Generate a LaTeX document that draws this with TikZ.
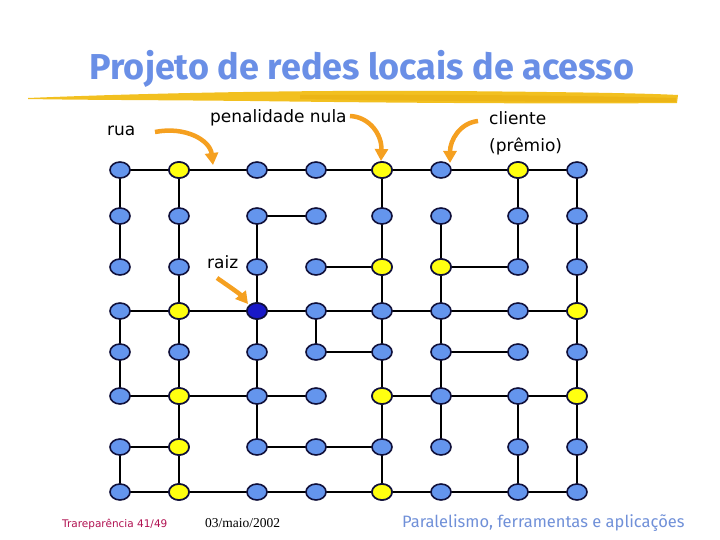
\documentclass[tikz,border=0pt]{standalone}
\usepackage{fontspec}
\setmainfont{DejaVu Sans}
\newfontfamily\titlefont{Fira Sans}
\newfontfamily\serfont{Liberation Serif}
\usetikzlibrary{shapes.geometric,arrows.meta}
\definecolor{nodeblue}{HTML}{6495ED}
\definecolor{nodeedge}{HTML}{10103A}
\definecolor{nodeyellow}{HTML}{FFFF10}
\definecolor{rootblue}{HTML}{1818C8}
\definecolor{titleblue}{HTML}{6A8FE6}
\definecolor{brush}{HTML}{F2C020}
\definecolor{brushdark}{HTML}{E8AE10}
\definecolor{arroworange}{HTML}{F5A020}
\definecolor{footred}{HTML}{B01050}
\definecolor{footblue}{HTML}{7090D8}
\tikzset{
  vtx/.style={ellipse,draw=nodeedge,line width=1.6pt,fill=nodeblue,minimum width=20pt,minimum height=16pt,inner sep=0pt},
  yel/.style={fill=nodeyellow},
  rootv/.style={fill=rootblue},
  edge/.style={draw=black,line width=1.8pt},
  orarrow/.style={draw=arroworange,line width=4.5pt,-{Triangle[length=12pt,width=13pt]}},
  lbl/.style={font=\fontsize{17}{20}\selectfont,inner sep=0pt,anchor=base west}
}
\begin{document}
\begin{tikzpicture}[x=1pt,y=-1pt]
\useasboundingbox (0,0) rectangle (720,540);
% brush stroke
\fill[brush] (28,98) .. controls (150,93) and (300,90) .. (450,91) .. controls (560,92) and (640,93) .. (678,95)
  -- (677,103) .. controls (560,104) and (400,103) .. (250,101) .. controls (150,100) and (80,100) .. (28,99) -- cycle;
\fill[brushdark,opacity=0.6] (300,95) .. controls (450,94) and (600,96) .. (676,98) -- (676,102) .. controls (560,102) and (420,101) .. (300,99) -- cycle;
% title
\node[font=\titlefont\bfseries\fontsize{36}{40}\selectfont,text=titleblue,anchor=base,inner sep=0pt] (title) at (362,80) {Projeto de redes locais de acesso};
% labels
\node[lbl] (rua) at (107,136) {rua};
\node[lbl] (pen) at (210,123) {penalidade nula};
\node[lbl] (cli) at (489,125) {cliente};
\node[lbl] (pre) at (489,152) {(prêmio)};
\node[lbl] (raiz) at (207,268) {raiz};
% grid nodes
\def\xs{{0,120,179,257,316,382,441,518,577}}
\def\ys{{0,170,216,267,311,352,396,447,492}}
\foreach \r in {1,...,8}{
  \foreach \c in {1,...,8}{
    \pgfmathsetmacro{\xx}{\xs[\c]}
    \pgfmathsetmacro{\yy}{\ys[\r]}
    \coordinate (p-\r-\c) at (\xx,\yy);
  }
}
% horizontal edges
\foreach \r/\a/\b in {1/1/2,1/2/3,1/3/4,1/4/5,1/5/6,1/6/7,1/7/8,
  2/3/4,
  3/4/5,3/6/7,
  4/1/2,4/2/3,4/3/4,4/4/5,4/5/6,4/6/7,4/7/8,
  5/4/5,5/6/7,
  6/1/2,6/2/3,6/3/4,6/5/6,6/6/7,6/7/8,
  7/1/2,7/3/4,7/4/5,
  8/1/2,8/2/3,8/3/4,8/4/5,8/5/6,8/6/7,8/7/8}{
  \draw[edge] (p-\r-\a) -- (p-\r-\b);
}
% vertical edges
\foreach \r/\s/\c in {1/2/1,1/2/2,1/2/5,1/2/7,1/2/8,
  2/3/1,2/3/2,2/3/3,2/3/5,2/3/6,2/3/7,2/3/8,
  3/4/2,3/4/3,3/4/5,3/4/6,3/4/8,
  4/5/1,4/5/2,4/5/3,4/5/4,4/5/5,4/5/6,4/5/8,
  5/6/1,5/6/2,5/6/3,5/6/5,5/6/6,5/6/8,
  6/7/2,6/7/3,6/7/5,6/7/6,6/7/7,6/7/8,
  7/8/1,7/8/2,7/8/5,7/8/7,7/8/8}{
  \draw[edge] (p-\r-\c) -- (p-\s-\c);
}
% vertices
\foreach \r in {1,...,8}{
  \foreach \c in {1,...,8}{
    \node[vtx] (n-\r-\c) at (p-\r-\c) {};
  }
}
\foreach \r/\c in {1/2,1/5,1/7,3/5,3/6,4/2,4/8,6/2,6/5,6/8,7/2,8/2,8/5}{
  \node[vtx,yel] at (p-\r-\c) {};
}
\node[vtx,rootv] (root) at (p-4-3) {};
% arrows
\coordinate (a1s) at (155,132);
\coordinate (a1e) at (213,165);
\coordinate (a2s) at (350,116);
\coordinate (a2e) at (381,161);
\coordinate (a3s) at (478,121);
\coordinate (a3e) at (450,163);
\coordinate (a4s) at (217,278);
\coordinate (a4e) at (248,304);
\draw[orarrow] (a1s) .. controls (185,126) and (210,140) .. (a1e);
\draw[orarrow] (a2s) .. controls (370,117) and (382,135) .. (a2e);
\draw[orarrow] (a3s) .. controls (460,123) and (450,140) .. (a3e);
\draw[orarrow] (a4s) .. controls (230,287) and (240,294) .. (a4e);
% footer
\node[font=\fontsize{10.5}{12}\selectfont,text=footred,anchor=base west,inner sep=0pt] (f1) at (62,527) {Trareparência 41/49};
\node[font=\serfont\fontsize{13.5}{15}\selectfont,anchor=base west,inner sep=0pt] (f2) at (205,527) {03/maio/2002};
\node[font=\titlefont\fontsize{16.5}{19}\selectfont,text=footblue,anchor=base west,inner sep=0pt] (f3) at (402,527) {Paralelismo, ferramentas e aplicações};
\end{tikzpicture}
\end{document}
